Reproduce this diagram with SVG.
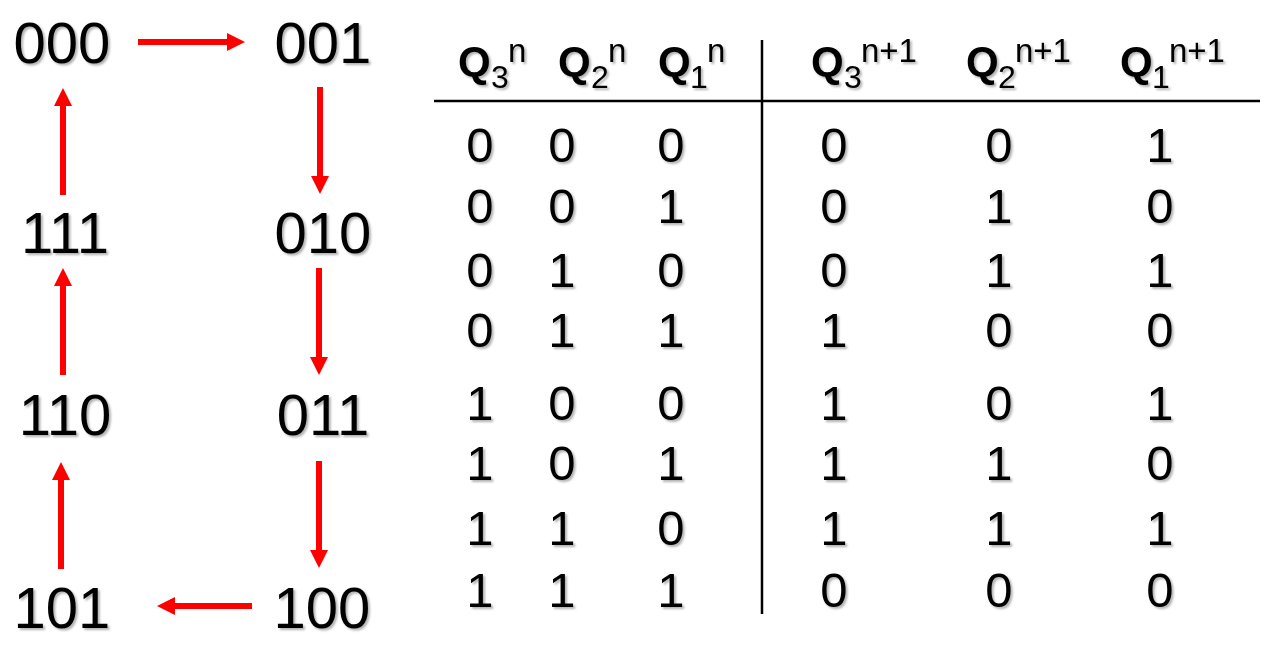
<svg xmlns="http://www.w3.org/2000/svg" width="1264" height="657" viewBox="0 0 1264 657">
<style>
text{font-family:"Liberation Sans",Arial,sans-serif;fill:#000;filter:url(#sh)}
.st{font-size:58px;text-anchor:middle}
.q{font-size:42px;font-weight:bold}
.s{font-size:32px}
.p{font-size:33px}
.d{font-size:49px;text-anchor:middle}
.arr{stroke:#ff0000;stroke-width:6;fill:none;marker-end:url(#ah)}
.rule{stroke:#000;stroke-width:2.5}
</style>
<defs>
<filter id="sh" x="-20%" y="-20%" width="140%" height="140%">
<feDropShadow dx="2" dy="2" stdDeviation="1.2" flood-color="#000" flood-opacity="0.3"/>
</filter>
<marker id="ah" markerUnits="userSpaceOnUse" markerWidth="18" markerHeight="18" viewBox="0 0 18 18" refX="0" refY="9" orient="auto">
<path d="M0,0 L18,9 L0,18 Z" fill="#ff0000"/>
</marker>
</defs>
<rect width="1264" height="657" fill="#fff"/>
<g id="connectors">
<line class="arr" x1="138" y1="42" x2="227" y2="42"/>
<line class="arr" x1="320" y1="87" x2="320" y2="176"/>
<line class="arr" x1="319" y1="268" x2="319" y2="357"/>
<line class="arr" x1="319" y1="461" x2="319" y2="550"/>
<line class="arr" x1="252" y1="606" x2="175" y2="606"/>
<line class="arr" x1="61" y1="569" x2="61" y2="480"/>
<line class="arr" x1="63" y1="375" x2="63" y2="286"/>
<line class="arr" x1="63" y1="195" x2="63" y2="106"/>
</g>
<g id="s000"><text class="st" x="62" y="63">000</text></g>
<g id="s001"><text class="st" x="323" y="63">001</text></g>
<g id="s111"><text class="st" x="65" y="253">111</text></g>
<g id="s010"><text class="st" x="323" y="253">010</text></g>
<g id="s110"><text class="st" x="65" y="435">110</text></g>
<g id="s011"><text class="st" x="323" y="435">011</text></g>
<g id="s101"><text class="st" x="62" y="628">101</text></g>
<g id="s100"><text class="st" x="322" y="628">100</text></g>
<g id="table">
<line class="rule" x1="434" y1="101" x2="1260" y2="101"/>
<line class="rule" x1="762" y1="40" x2="762" y2="614"/>
<g id="header">
<text><tspan class="q" x="458" y="76">Q</tspan><tspan class="s" x="491" y="88">3</tspan><tspan class="p" x="508" y="62">n</tspan></text>
<text><tspan class="q" x="558" y="76">Q</tspan><tspan class="s" x="591" y="88">2</tspan><tspan class="p" x="608" y="62">n</tspan></text>
<text><tspan class="q" x="658" y="76">Q</tspan><tspan class="s" x="690" y="88">1</tspan><tspan class="p" x="707" y="62">n</tspan></text>
<text><tspan class="q" x="811" y="76">Q</tspan><tspan class="s" x="844" y="88">3</tspan><tspan class="p" x="861" y="62">n+1</tspan></text>
<text><tspan class="q" x="966" y="76">Q</tspan><tspan class="s" x="998" y="88">2</tspan><tspan class="p" x="1015" y="62">n+1</tspan></text>
<text><tspan class="q" x="1120" y="76">Q</tspan><tspan class="s" x="1152" y="88">1</tspan><tspan class="p" x="1169" y="62">n+1</tspan></text>
</g>
<g id="rows">
<text class="d" y="162"><tspan x="480">0</tspan><tspan x="562">0</tspan><tspan x="671">0</tspan><tspan x="834">0</tspan><tspan x="999">0</tspan><tspan x="1160">1</tspan></text>
<text class="d" y="223"><tspan x="480">0</tspan><tspan x="562">0</tspan><tspan x="671">1</tspan><tspan x="834">0</tspan><tspan x="999">1</tspan><tspan x="1160">0</tspan></text>
<text class="d" y="287"><tspan x="480">0</tspan><tspan x="562">1</tspan><tspan x="671">0</tspan><tspan x="834">0</tspan><tspan x="999">1</tspan><tspan x="1160">1</tspan></text>
<text class="d" y="347"><tspan x="480">0</tspan><tspan x="562">1</tspan><tspan x="671">1</tspan><tspan x="834">1</tspan><tspan x="999">0</tspan><tspan x="1160">0</tspan></text>
<text class="d" y="420"><tspan x="480">1</tspan><tspan x="562">0</tspan><tspan x="671">0</tspan><tspan x="834">1</tspan><tspan x="999">0</tspan><tspan x="1160">1</tspan></text>
<text class="d" y="480"><tspan x="480">1</tspan><tspan x="562">0</tspan><tspan x="671">1</tspan><tspan x="834">1</tspan><tspan x="999">1</tspan><tspan x="1160">0</tspan></text>
<text class="d" y="545"><tspan x="480">1</tspan><tspan x="562">1</tspan><tspan x="671">0</tspan><tspan x="834">1</tspan><tspan x="999">1</tspan><tspan x="1160">1</tspan></text>
<text class="d" y="607"><tspan x="480">1</tspan><tspan x="562">1</tspan><tspan x="671">1</tspan><tspan x="834">0</tspan><tspan x="999">0</tspan><tspan x="1160">0</tspan></text>
</g>
</g>
</svg>
